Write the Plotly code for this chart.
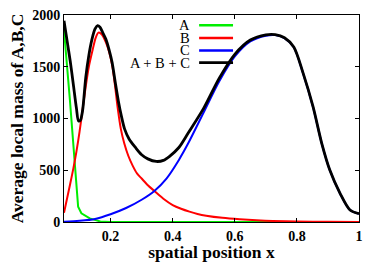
import plotly.graph_objects as go

# Series A (green)
a_x = [0.05, 0.069, 0.0955, 0.106, 0.133, 0.167, 0.2, 0.4, 0.6, 0.8, 1.0]
a_y = [1855, 1180, 148, 84, 35, 5, 1, 0, 0, 0, 0]

# Series B (red)
b_x = [0.05, 0.07, 0.08, 0.09, 0.1, 0.11, 0.12, 0.13, 0.142, 0.152, 0.161, 0.172, 0.185,
       0.196, 0.206, 0.215, 0.223, 0.233, 0.244, 0.257, 0.271, 0.285, 0.3, 0.32, 0.341,
       0.37, 0.4, 0.427, 0.454, 0.48, 0.508, 0.56, 0.616, 0.67, 0.722, 0.8, 0.9, 1.0]
b_y = [90, 370, 516, 680, 870, 1090, 1310, 1500, 1660, 1780, 1830, 1812, 1735,
       1635, 1500, 1300, 1100, 900, 760, 640, 545, 470, 420, 355, 300,
       225, 164, 128, 100, 78, 61, 40, 26, 16, 10, 5, 2, 1]

# Series C (blue)
c_x = [0.05, 0.1, 0.15, 0.2, 0.25, 0.3, 0.341, 0.38, 0.42, 0.45, 0.5, 0.55, 0.6, 0.65,
       0.7, 0.73, 0.76, 0.79, 0.82, 0.852, 0.88, 0.906, 0.939, 0.971, 1.0]
c_y = [3, 12, 30, 75, 135, 215, 300, 420, 600, 760, 1060, 1360, 1600, 1745,
       1800, 1806, 1776, 1688, 1436, 1112, 759, 501, 276, 115, 80]

# Total A + B + C (black)
t_x = [0.05, 0.06, 0.07, 0.08, 0.09, 0.097, 0.103, 0.11, 0.12, 0.13, 0.14, 0.15, 0.158,
       0.166, 0.175, 0.185, 0.195, 0.205, 0.215, 0.225, 0.235, 0.245, 0.26, 0.28, 0.3,
       0.32, 0.347, 0.37, 0.39, 0.42, 0.45, 0.5, 0.55, 0.6, 0.65, 0.7, 0.73, 0.76, 0.79,
       0.82, 0.852, 0.88, 0.906, 0.939, 0.971, 1.0]
t_y = [1945, 1750, 1555, 1330, 1100, 975, 985, 1080, 1395, 1610, 1765, 1865, 1897,
       1882, 1828, 1765, 1665, 1540, 1350, 1170, 1020, 900, 800, 720, 650,
       610, 585, 595, 635, 720, 860, 1100, 1390, 1620, 1758, 1808, 1810, 1780, 1690,
       1438, 1114, 760, 502, 277, 116, 80]

legend_labels = ["A", "B", "C", "A + B + C"]
colors = ["#00ee00", "#ff0000", "#0000ff", "#000000"]

fig = go.Figure()
fig.add_trace(go.Scatter(x=a_x, y=a_y, mode="lines", line=dict(color=colors[0], width=2), showlegend=False))
fig.add_trace(go.Scatter(x=b_x, y=b_y, mode="lines", line=dict(color=colors[1], width=2, shape="spline", smoothing=0.8), showlegend=False))
fig.add_trace(go.Scatter(x=c_x, y=c_y, mode="lines", line=dict(color=colors[2], width=2, shape="spline", smoothing=0.8), showlegend=False))
fig.add_trace(go.Scatter(x=t_x, y=t_y, mode="lines", line=dict(color=colors[3], width=2.8, shape="spline", smoothing=0.8), showlegend=False))

# Manual legend (text left of line samples)
rows_y = [0.950, 0.889, 0.829, 0.770]
for lab, col, yy in zip(legend_labels, colors, rows_y):
    fig.add_annotation(x=0.432, y=yy, xref="paper", yref="paper", text=lab, showarrow=False,
                       xanchor="right", yanchor="middle", borderpad=0,
                       font=dict(family="Liberation Serif", size=14.5, color="black"))
    fig.add_shape(type="line", xref="paper", yref="paper", x0=0.458, x1=0.573, y0=yy, y1=yy,
                  line=dict(color=col, width=2.5 if col != "#000000" else 2.8))

tickfont = dict(family="Liberation Serif", size=14, color="black", weight="bold")
titlefont = dict(family="Liberation Serif", size=17.5, color="black", weight="bold")

fig.update_layout(
    width=382, height=262,
    margin=dict(l=64, r=23, t=15, b=40, autoexpand=False),
    plot_bgcolor="white", paper_bgcolor="white",
    xaxis=dict(range=[0.05, 1.0], tickvals=[0.2, 0.4, 0.6, 0.8, 1.0], ticktext=["0.2", "0.4", "0.6", "0.8", "1"],
               ticks="inside", ticklen=4, tickcolor="black", showline=True, linecolor="black", linewidth=1,
               mirror="ticks", showgrid=False, zeroline=False, tickfont=tickfont, ticklabelstandoff=1,
               automargin=False,
               title=dict(text="spatial position x", font=titlefont, standoff=1)),
    yaxis=dict(range=[0, 2000], tickvals=[0, 500, 1000, 1500, 2000],
               ticks="inside", ticklen=4, tickcolor="black", showline=True, linecolor="black", linewidth=1,
               mirror="ticks", showgrid=False, zeroline=False, tickfont=tickfont, automargin=False,
               title=dict(text="Average local mass of A,B,C", font=titlefont, standoff=4)),
)

fig.write_html("out.html", config={"displayModeBar": False},
               post_script="document.body.style.margin='0';")
